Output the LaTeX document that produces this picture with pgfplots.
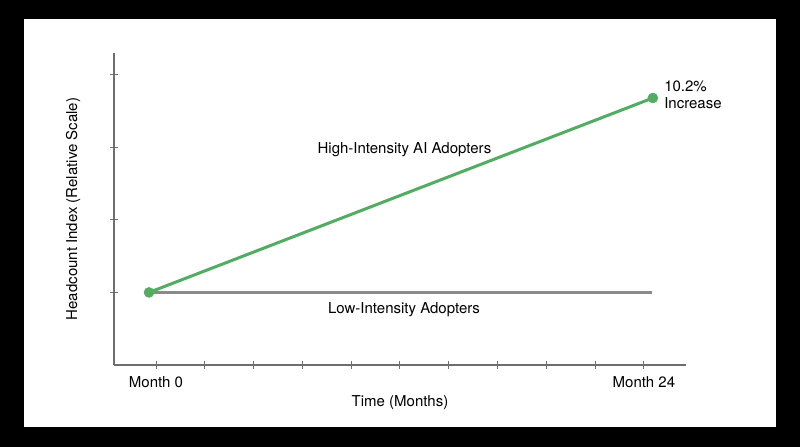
\documentclass[border=0pt]{standalone}
\usepackage{fontspec}
\setmainfont{TeX Gyre Heros}
\usepackage{pgfplots}
\pgfplotsset{compat=1.18}
\definecolor{hgreen}{HTML}{52AC62}
\definecolor{lgray}{HTML}{8A8A8A}
\definecolor{axgray}{HTML}{6E6E6E}
\begin{document}
\fontsize{15bp}{18bp}\selectfont
\begin{tikzpicture}[x=1bp,y=1bp]
\fill[black] (0,0) rectangle (800,447);
\fill[white] (24,20) rectangle (776,428);
\begin{axis}[
  at={(114bp,82bp)}, anchor=south west,
  scale only axis, width=572bp, height=312bp,
  xmin=-2.066, xmax=26.07, ymin=0, ymax=4.30,
  axis lines*=left,
  axis line style={-, draw=axgray, line width=1.2bp},
  xtick={0,2.4,4.8,7.2,9.6,12,14.4,16.8,19.2,21.6,24},
  xticklabels={Month 0,,,,,,,,,,Month 24},
  ytick={1,2,3,4}, yticklabels={},
  tick align=center, major tick length=8bp,
  tick style={draw=axgray, line width=1bp},
  xticklabel style={font=\fontsize{15bp}{18bp}\selectfont, text=black, yshift=-2bp},
  every axis x label/.style={at={(rel axis cs:0.5,-0.122)}, anchor=center, font=\fontsize{15bp}{18bp}\selectfont},
  every axis y label/.style={at={(rel axis cs:-0.0717,0.5)}, rotate=90, anchor=center, font=\fontsize{15bp}{18bp}\selectfont},
  xlabel={Time (Months)},
  ylabel={Headcount Index (Relative Scale)},
  clip=false,
]
\addplot[lgray, line width=3bp] coordinates {(-0.344,1.0) (24.4,1.0)};
\addplot[hgreen, line width=3bp, mark=*, mark size=5bp, mark options={fill=hgreen, draw=hgreen, line width=0.5bp, solid}] coordinates {(-0.344,1.0) (24.44,3.68)};
\node[anchor=center, font=\fontsize{15bp}{18bp}\selectfont] at (axis cs:12.22,2.97) {High-Intensity AI Adopters};
\node[anchor=center, font=\fontsize{15bp}{18bp}\selectfont] at (axis cs:12.2,0.766) {Low-Intensity Adopters};
\node[anchor=west, align=left, inner sep=0pt, font=\fontsize{15bp}{17bp}\selectfont] at (axis cs:24.99,3.72) {10.2\%\\Increase};
\end{axis}
\end{tikzpicture}
\end{document}
